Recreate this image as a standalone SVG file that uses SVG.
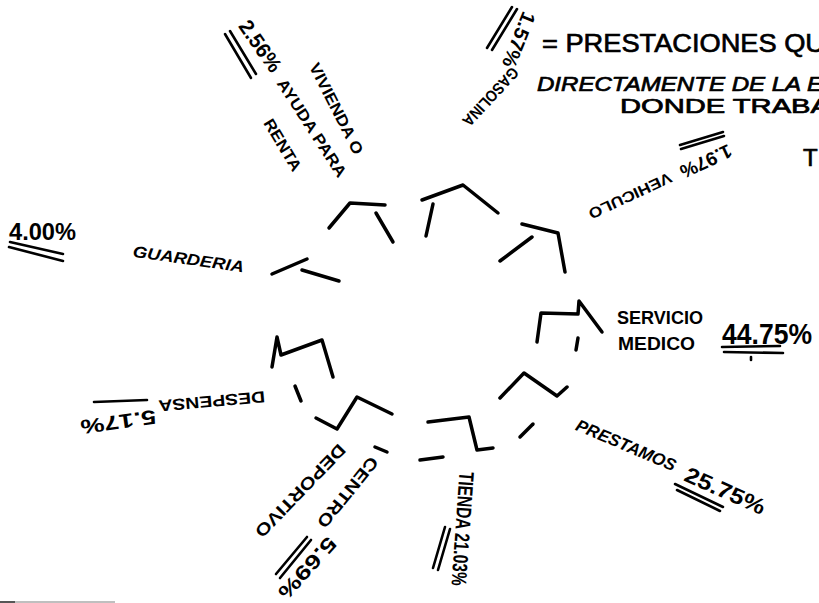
<svg xmlns="http://www.w3.org/2000/svg" width="819" height="603" viewBox="0 0 819 603">
<style>
.s{fill:none;stroke:#000;stroke-width:3.5;stroke-linecap:round;stroke-linejoin:round}
.u{fill:none;stroke:#000;stroke-width:2.6;stroke-linecap:round}
.t{font-family:"Liberation Sans",Arial,sans-serif;font-weight:bold;fill:#000}
.i{font-style:italic}
.h{font-family:"Liberation Sans",Arial,sans-serif;font-weight:normal;fill:#000;stroke:#000;stroke-width:0.7}
</style>
<rect width="819" height="603" fill="#fff"/>

<g id="title">
<text class="h" x="542" y="52" font-size="26" textLength="283" lengthAdjust="spacingAndGlyphs">= PRESTACIONES QU</text>
<text class="h i" x="537" y="91" font-size="20" textLength="286" lengthAdjust="spacingAndGlyphs">DIRECTAMENTE DE LA E</text>
<text class="h" x="620" y="113" font-size="20" textLength="210" lengthAdjust="spacingAndGlyphs">DONDE  TRABA</text>
<text class="h" x="803" y="166" font-size="24">T</text>
</g>

<g id="connectors"></g>

<g id="vivienda">
<polyline class="s" points="329,228 350,203 385,205"/>
<line class="s" x1="376" y1="213" x2="393" y2="242"/>
<text class="t" transform="translate(244,22) rotate(55)" dy=".36em" font-size="21" textLength="58" lengthAdjust="spacingAndGlyphs">2.56%</text>
<line class="u" x1="225" y1="34" x2="251" y2="78"/>
<line class="u" x1="230" y1="31" x2="256" y2="74"/>
<text class="t" transform="translate(314,64) rotate(63)" dy=".36em" font-size="16" textLength="100" lengthAdjust="spacingAndGlyphs">VIVIENDA O</text>
<text class="t" transform="translate(281,80) rotate(57)" dy=".36em" font-size="16" textLength="114" lengthAdjust="spacingAndGlyphs">AYUDA PARA</text>
<text class="t" transform="translate(268,120) rotate(59)" dy=".36em" font-size="16" textLength="58" lengthAdjust="spacingAndGlyphs">RENTA</text>
</g>

<g id="gasolina">
<polyline class="s" points="422,200 463,185 498,213"/>
<line class="s" x1="433" y1="204" x2="426" y2="236"/>
<text class="t" transform="translate(530,13) rotate(112)" dy=".36em" font-size="20" textLength="58" lengthAdjust="spacingAndGlyphs">1.57%</text>
<line class="u" x1="487" y1="48" x2="512" y2="7"/>
<line class="u" x1="492" y1="50" x2="517" y2="9"/>
<text class="t" transform="translate(516,70) rotate(133)" dy=".36em" font-size="16" textLength="74" lengthAdjust="spacingAndGlyphs">GASOLINA</text>
</g>

<g id="vehiculo">
<line class="s" x1="500" y1="261" x2="532" y2="237"/>
<polyline class="s" points="522,224 558,233 565,272"/>
<text class="t" transform="translate(731,150) rotate(155)" dy=".36em" font-size="19" textLength="55" lengthAdjust="spacingAndGlyphs">1.97%</text>
<line class="u" x1="680" y1="145" x2="723" y2="132"/>
<line class="u" x1="681" y1="149" x2="724" y2="136"/>
<text class="t" transform="translate(671,177) rotate(155)" dy=".36em" font-size="15" textLength="90" lengthAdjust="spacingAndGlyphs">VEHICULO</text>
</g>

<g id="servicio-medico">
<polyline class="s" points="537,342 541,313 578,314 579,301 602,332"/>
<line class="s" x1="578" y1="338" x2="576" y2="350"/>
<text class="t" x="617" y="324" font-size="19" textLength="86" lengthAdjust="spacingAndGlyphs">SERVICIO</text>
<text class="t" x="618" y="350" font-size="19" textLength="77" lengthAdjust="spacingAndGlyphs">MEDICO</text>
<text class="t" x="722" y="344" font-size="29" textLength="90" lengthAdjust="spacingAndGlyphs">44.75%</text>
<line class="u" x1="722" y1="347" x2="780" y2="346"/>
<line class="u" x1="724" y1="352" x2="783" y2="353"/>
<line class="u" x1="751" y1="357" x2="751" y2="360" stroke-width="1.5"/>
</g>

<g id="prestamos">
<polyline class="s" points="500,398 524,373 557,396 567,387"/>
<line class="s" x1="520" y1="437" x2="533" y2="424"/>
<text class="t i" transform="translate(577,424) rotate(23)" dy=".36em" font-size="17" textLength="107" lengthAdjust="spacingAndGlyphs">PRESTAMOS</text>
<text class="t" transform="translate(686,473) rotate(24)" dy=".36em" font-size="22" textLength="86" lengthAdjust="spacingAndGlyphs">25.75%</text>
<line class="u" x1="675" y1="484" x2="723" y2="507"/>
<line class="u" x1="677" y1="490" x2="720" y2="511"/>
</g>

<g id="tienda">
<polyline class="s" points="428,422 469,417 477,450 493,448"/>
<line class="s" x1="420" y1="460" x2="443" y2="457"/>
<text class="t" transform="translate(467,472) rotate(94)" dy=".36em" font-size="21" textLength="114" lengthAdjust="spacingAndGlyphs">TIENDA 21.03%</text>
<line class="u" x1="433" y1="568" x2="445" y2="527"/>
<line class="u" x1="438" y1="570" x2="450" y2="529"/>
</g>

<g id="centro-deportivo">
<polyline class="s" points="316,418 337,429 357,397 392,414"/>
<line class="s" x1="375" y1="447" x2="387" y2="452"/>
<text class="t" transform="translate(375,459) rotate(129)" dy=".36em" font-size="17" textLength="86" lengthAdjust="spacingAndGlyphs">CENTRO</text>
<text class="t" transform="translate(343,447) rotate(134)" dy=".36em" font-size="17" textLength="122" lengthAdjust="spacingAndGlyphs">DEPORTIVO</text>
<text class="t" transform="translate(333,540) rotate(132)" dy=".36em" font-size="20" textLength="76" lengthAdjust="spacingAndGlyphs">5.69%</text>
<line class="u" x1="276" y1="574" x2="307" y2="537"/>
<line class="u" x1="280" y1="578" x2="311" y2="540"/>
</g>

<g id="despensa">
<polyline class="s" points="272,367 277,337 281,355 322,340 333,377"/>
<line class="s" x1="295" y1="386" x2="301" y2="401"/>
<text class="t" transform="translate(265,397) rotate(175)" dy=".36em" font-size="16" textLength="107" lengthAdjust="spacingAndGlyphs">DESPENSA</text>
<text class="t" transform="translate(156,417) rotate(172)" dy=".36em" font-size="20" textLength="76" lengthAdjust="spacingAndGlyphs">5.17%</text>
<line class="u" x1="94" y1="402" x2="147" y2="400" stroke-width="5"/>
</g>

<g id="guarderia">
<line class="s" x1="272" y1="274" x2="307" y2="259" stroke-width="4"/>
<line class="s" x1="302" y1="270" x2="339" y2="281"/>
<text class="t i" transform="translate(133,251) rotate(8)" dy=".36em" font-size="16" textLength="112" lengthAdjust="spacingAndGlyphs">GUARDERIA</text>
<text class="t" x="9" y="240" font-size="23" textLength="67" lengthAdjust="spacingAndGlyphs">4.00%</text>
<line class="u" x1="10" y1="242" x2="63" y2="254"/>
<line class="u" x1="9" y1="247" x2="63" y2="261"/>
</g>

<line x1="0" y1="602" x2="115" y2="602" stroke="#aaa" stroke-width="1.5"/>
<line x1="0" y1="602" x2="15" y2="602" stroke="#333" stroke-width="1.5"/>
</svg>
